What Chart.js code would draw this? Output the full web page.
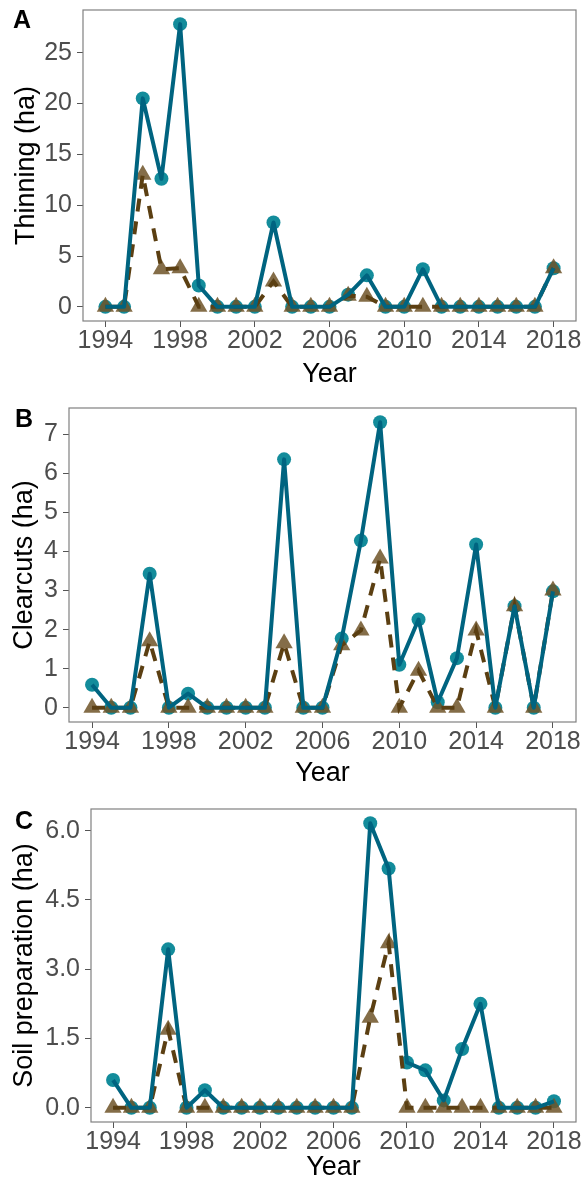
<!DOCTYPE html>
<html><head><meta charset="utf-8">
<script src="https://cdn.jsdelivr.net/npm/chart.js@4.4.1/dist/chart.umd.min.js"></script>
<style>
html,body{margin:0;padding:0;background:#fff;}
body{width:586px;height:1183px;position:relative;overflow:hidden;}
canvas{position:absolute;left:0;}
</style></head><body>
<canvas id="cA" width="586" height="390" style="top:0px;width:586px;height:390px"></canvas>
<canvas id="cB" width="586" height="400" style="top:390px;width:586px;height:400px"></canvas>
<canvas id="cC" width="586" height="393" style="top:790px;width:586px;height:393px"></canvas>
<script>
// ---- data ----
const years = [1994,1995,1996,1997,1998,1999,2000,2001,2002,2003,2004,2005,2006,2007,2008,2009,2010,2011,2012,2013,2014,2015,2016,2017,2018];
const xTicks = [1994,1998,2002,2006,2010,2014,2018];

const thinningBlue  = [0,0,20.5,12.6,27.8,2.1,0,0,0,8.3,0,0,0,1.2,3.1,0,0,3.7,0,0,0,0,0,0,3.8];
const thinningBrown = [0,0,13.0,3.7,3.8,0,0,0,0,2.5,0,0,0,1.1,1.0,0,0,0,0,0,0,0,0,0,3.8];
const thinningTicks = [0,5,10,15,20,25];

const clearcutBlue  = [0.59,0,0,3.43,0,0.36,0,0,0,0,6.36,0,0,1.77,4.28,7.31,1.10,2.26,0.14,1.27,4.18,0,2.60,0,2.98];
const clearcutBrown = [0,0,0,1.70,0,0,0,0,0,0,1.65,0,0,1.60,1.98,3.82,0,0.95,0,0,1.98,0,2.60,0,3.00];
const clearcutTicks = [0,1,2,3,4,5,6,7];

const soilBlue  = [0.60,0,0,3.43,0,0.38,0,0,0,0,0,0,0,0,6.16,5.18,0.98,0.81,0.16,1.27,2.25,0,0,0,0.14];
const soilBrown = [0,0,0,1.69,0,0,0,0,0,0,0,0,0,0,1.95,3.56,0,0,0,0,0,0,0,0,0];
const soilTicks = [0,1.5,3.0,4.5,6.0];

// ---- styling ----
const FONT = '"Liberation Sans", Arial, Helvetica, sans-serif';
const BLUE_LINE = '#006480';
const BLUE_PT = '#138c9b';
const BROWN_LINE = '#5b3f12';
const BROWN_PT = 'rgba(110,84,40,0.85)';

const framePlugin = {
  id: 'frame',
  afterDraw(chart, args, opts) {
    const {ctx, chartArea: a} = chart;
    ctx.save();
    ctx.strokeStyle = '#808080';
    ctx.lineWidth = 1.2;
    ctx.strokeRect(a.left, a.top, a.right - a.left, a.bottom - a.top);
    ctx.fillStyle = '#000';
    ctx.font = 'bold 25px ' + FONT;
    ctx.textAlign = 'center';
    ctx.textBaseline = 'middle';
    ctx.fillText(opts.letter, opts.lx, opts.ly);
    ctx.restore();
  }
};

function pts(vals) { return years.map((x, i) => ({x: x, y: vals[i]})); }

function makeChart(id, c) {
  const all = c.blue.concat(c.brown);
  const lo = Math.min(...all), hi = Math.max(...all);
  const yPad = 0.05 * (hi - lo);
  const xPad = 0.05 * (years[years.length - 1] - years[0]);
  new Chart(document.getElementById(id), {
    type: 'line',
    data: {
      datasets: [
        {data: pts(c.blue), borderColor: BLUE_LINE, borderWidth: 4, pointRadius: 0, tension: 0, order: 0, borderJoinStyle: 'round', borderCapStyle: 'butt'},
        {data: pts(c.brown), borderColor: BROWN_LINE, borderWidth: 4, borderDash: [13, 10], pointRadius: 0, tension: 0, order: 1},
        {data: pts(c.brown), showLine: false, pointStyle: 'triangle', pointRadius: 10, pointBackgroundColor: BROWN_PT, pointBorderWidth: 0, pointBorderColor: 'rgba(0,0,0,0)', order: 2},
        {data: pts(c.blue), showLine: false, pointStyle: 'circle', pointRadius: 7, pointBackgroundColor: BLUE_PT, pointBorderWidth: 0, pointBorderColor: 'rgba(0,0,0,0)', order: 3}
      ]
    },
    options: {
      responsive: false, animation: false, devicePixelRatio: 1,
      events: [],
      layout: {padding: {top: c.top, right: 5, left: 0, bottom: 0}},
      plugins: {legend: {display: false}, tooltip: {enabled: false},
        frame: {letter: c.letter, lx: c.lx, ly: c.ly}},
      scales: {
        x: {
          type: 'linear', min: years[0] - xPad, max: years[years.length - 1] + xPad,
          afterBuildTicks: s => { s.ticks = xTicks.map(v => ({value: v})); },
          afterFit: s => { s.height = c.xh; s.paddingLeft = 0; s.paddingRight = 0; },
          ticks: {autoSkip: false, maxRotation: 0, minRotation: 0, padding: 2, color: '#4d4d4d',
            font: {family: FONT, size: 25, lineHeight: 1}, callback: v => String(v)},
          grid: {display: true, drawOnChartArea: false, drawTicks: true, tickLength: 6, color: '#555', lineWidth: 1},
          border: {display: false},
          title: {display: true, text: 'Year', color: '#000', font: {family: FONT, size: 27, lineHeight: 1},
            padding: {top: 0, bottom: c.yearPad}}
        },
        y: {
          type: 'linear', min: lo - yPad, max: hi + yPad,
          afterBuildTicks: s => { s.ticks = c.ticks.map(v => ({value: v})); },
          afterFit: s => { s.width = c.left; s.paddingTop = 0; s.paddingBottom = 0; },
          ticks: {autoSkip: false, padding: 5, color: '#4d4d4d',
            font: {family: FONT, size: 25, lineHeight: 1}, callback: v => c.fmt(v)},
          grid: {display: true, drawOnChartArea: false, drawTicks: true, tickLength: 6, color: '#555', lineWidth: 1},
          border: {display: false},
          title: {display: true, text: c.title, color: '#000', font: {family: FONT, size: 27, lineHeight: 1},
            padding: {top: c.titlePad, bottom: 0}}
        }
      }
    },
    plugins: [framePlugin]
  });
}

makeChart('cA', {blue: thinningBlue, brown: thinningBrown, ticks: thinningTicks, fmt: v => String(v),
  title: 'Thinning (ha)', letter: 'A', lx: 22, ly: 21,
  top: 7, left: 83, xh: 390 - 321, yearPad: 2, titlePad: 13});
makeChart('cB', {blue: clearcutBlue, brown: clearcutBrown, ticks: clearcutTicks, fmt: v => String(v),
  title: 'Clearcuts (ha)', letter: 'B', lx: 24, ly: 30,
  top: 18, left: 69, xh: 400 - 332, yearPad: 2.5, titlePad: 11});
makeChart('cC', {blue: soilBlue, brown: soilBrown, ticks: soilTicks, fmt: v => v.toFixed(1),
  title: 'Soil preparation (ha)', letter: 'C', lx: 24, ly: 32,
  top: 19, left: 91, xh: 393 - 332, yearPad: 1.5, titlePad: 11});
</script>
</body></html>
